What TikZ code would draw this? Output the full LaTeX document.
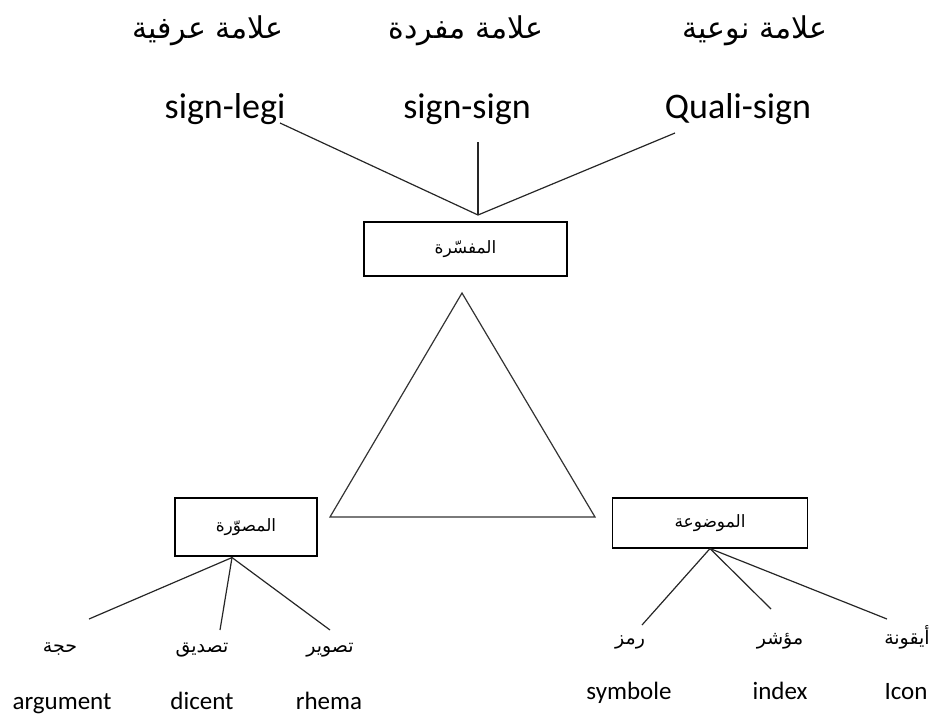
\documentclass[tikz,border=0pt]{standalone}
\usepackage{fontspec}
\usepackage{tikz}
\usetikzlibrary{calc}
\setmainfont{Carlito}
\newfontfamily\arabicfont[Script=Arabic]{DejaVu Sans}
\TeXXeTstate=1
\newcommand{\artext}[1]{\arabicfont\beginR #1\endR}

\begin{document}
\begin{tikzpicture}[x=1pt, y=-1pt,
    toplabel/.style={font=\fontsize{30}{36}\selectfont, inner sep=0pt},
    signlabel/.style={font=\fontsize{36}{42}\selectfont, inner sep=0pt, anchor=base},
    boxlabel/.style={draw, line width=1.1pt, font=\fontsize{17}{20}\selectfont},
    leaflabel/.style={font=\fontsize{19}{22}\selectfont, inner sep=0pt, anchor=base},
    termlabel/.style={font=\fontsize{25}{30}\selectfont, inner sep=0pt, anchor=base},
    link/.style={line width=1.2pt, black!85}]

    \useasboundingbox (0,0) rectangle (931,716);

    % Kinds of sign
    \node[toplabel] (conv) at (208,31) {\artext{علامة عرفية}};
    \node[toplabel] (single) at (466,31) {\artext{علامة مفردة}};
    \node[toplabel] (qual) at (755,31) {\artext{علامة نوعية}};

    \node[signlabel] (legi) at (225,118) {sign-legi};
    \node[signlabel] (sinsign) at (467,118) {sign-sign};
    \node[signlabel] (quali) at (738,118) {Quali-sign};

    % Interpretant box
    \node[boxlabel, minimum width=203pt, minimum height=54pt] (interp) at (465.5,249) {\artext{المفسّرة}};
    \coordinate (meet) at (478,215);

    \draw[link] ($(legi.base)+(55,5)$) -- (meet);
    \draw[link] ($(sinsign.base)+(11,24)$) -- (meet);
    \draw[link] ($(quali.base)+(-63,15)$) -- (meet);

    % Triangle
    \draw[line width=1.2pt, black!80] (462,293) -- (330,517) -- (595,517) -- cycle;

    % Representamen side
    \node[boxlabel, minimum width=142pt, minimum height=58pt] (rep) at (246,527) {\artext{المصوّرة}};

    \node[leaflabel] (hojja) at (60,652) {\artext{حجة}};
    \node[leaflabel] (tasdiq) at (202,652) {\artext{تصديق}};
    \node[leaflabel] (taswir) at (330,652) {\artext{تصوير}};

    \node[termlabel] (argument) at (62,709) {argument};
    \node[termlabel] (dicent) at (202,709) {dicent};
    \node[termlabel] (rhema) at (329,709) {rhema};

    \draw[link] ($(rep.south)+(-14,1)$) -- ($(hojja.base)+(29,-33)$);
    \draw[link] ($(rep.south)+(-14,1)$) -- ($(tasdiq.base)+(18,-22)$);
    \draw[link] ($(rep.south)+(-14,1)$) -- ($(taswir.base)+(0,-22)$);

    % Object side
    \node[boxlabel, minimum width=195pt, minimum height=50pt] (obj) at (710,523) {\artext{الموضوعة}};

    \node[leaflabel] (ramz) at (630,644) {\artext{رمز}};
    \node[leaflabel] (muashir) at (780,644) {\artext{مؤشر}};
    \node[leaflabel] (iqona) at (907,644) {\artext{أيقونة}};

    \node[termlabel] (symbole) at (629,699) {symbole};
    \node[termlabel] (index) at (780,699) {index};
    \node[termlabel] (icon) at (906,699) {Icon};

    \draw[link] (obj.south) -- ($(ramz.base)+(12,-19)$);
    \draw[link] (obj.south) -- ($(muashir.base)+(-9,-35)$);
    \draw[link] (obj.south) -- ($(iqona.base)+(-20,-25)$);

\end{tikzpicture}
\end{document}
